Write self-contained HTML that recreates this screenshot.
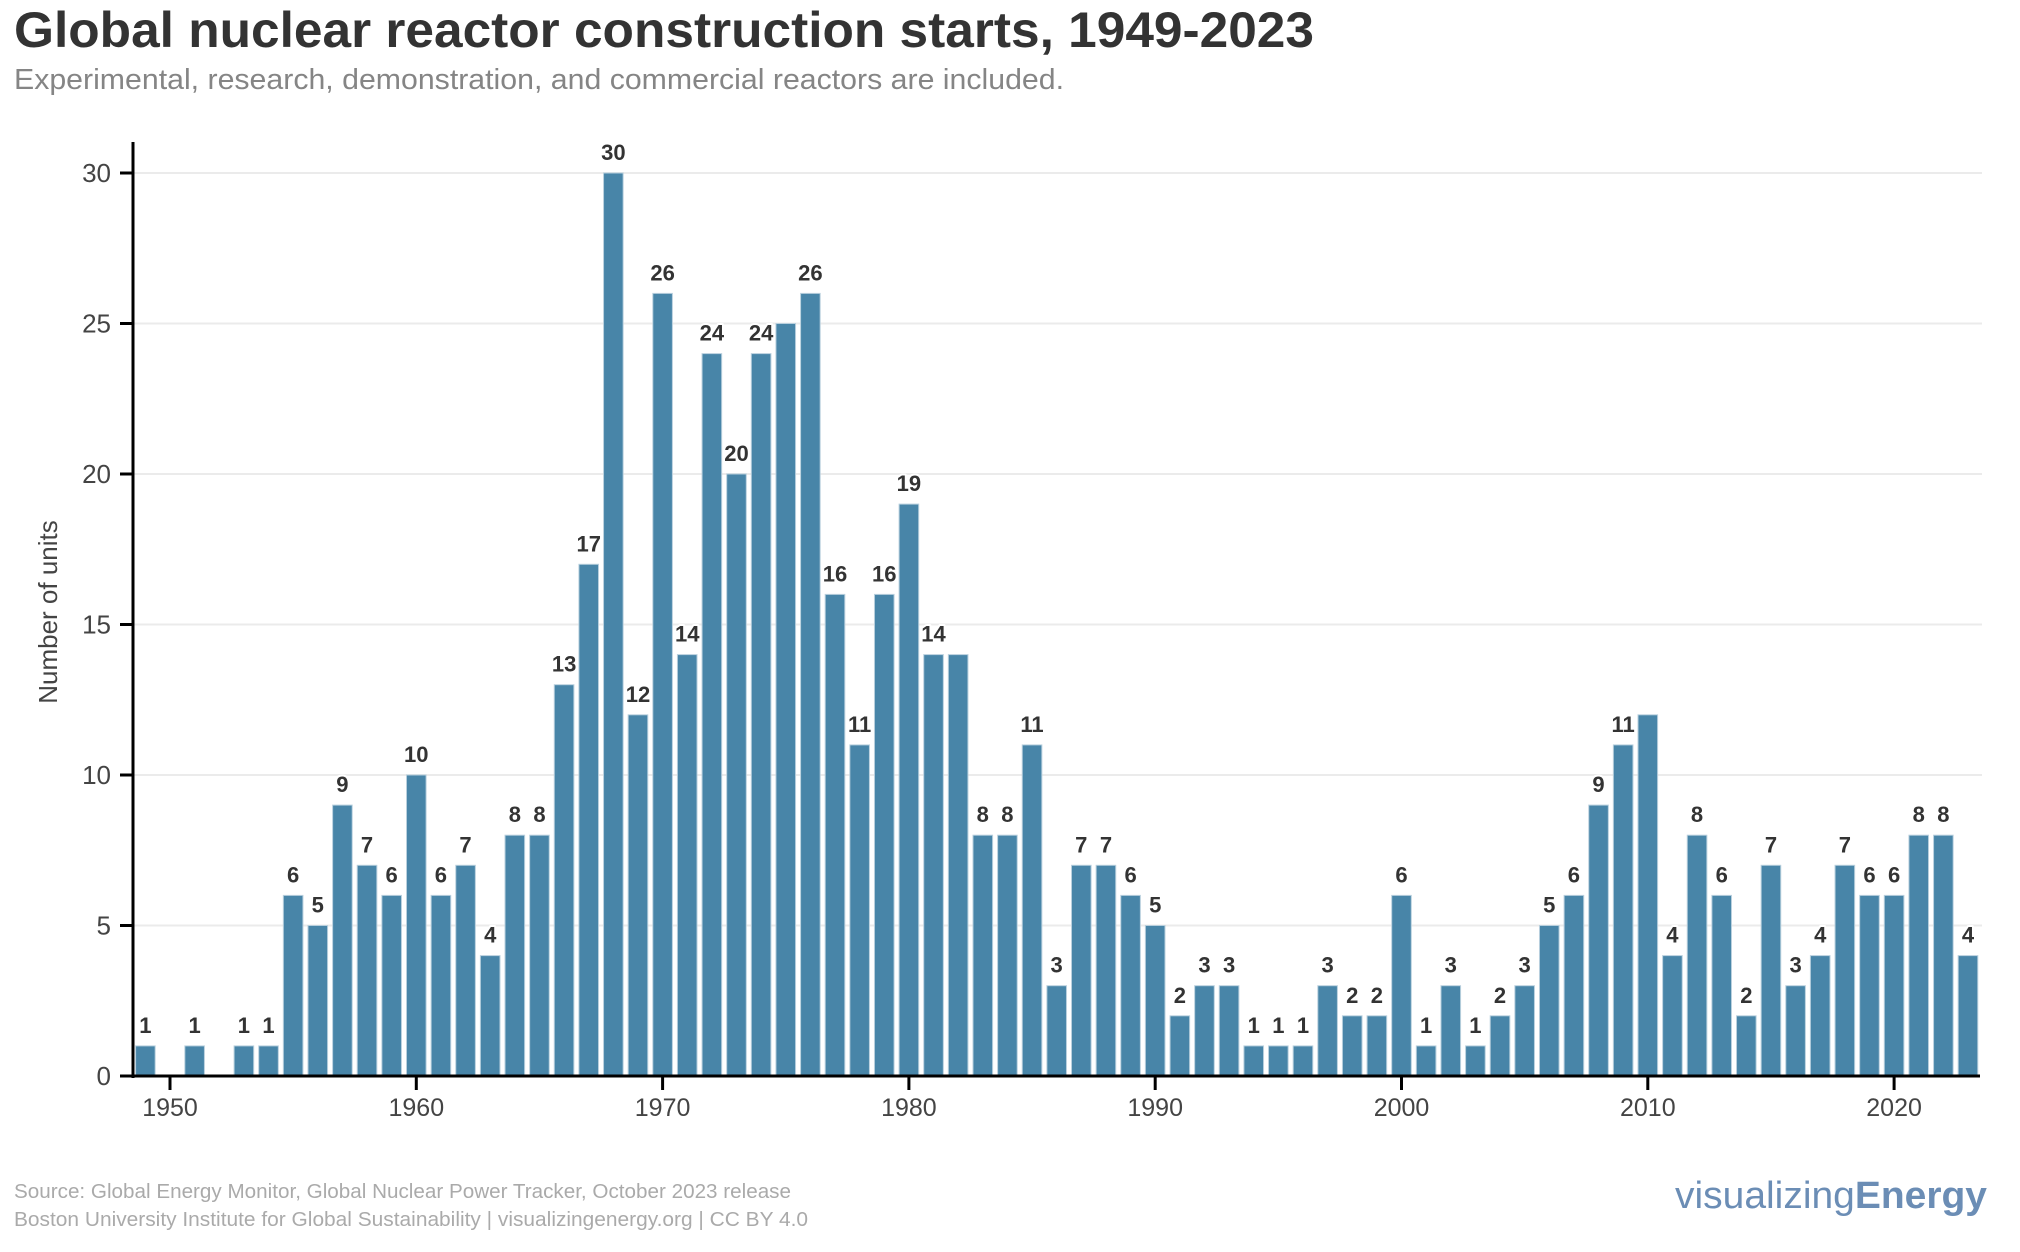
<!DOCTYPE html>
<html><head><meta charset="utf-8"><style>
html,body{margin:0;padding:0;background:#fff;}
svg{display:block;font-family:"Liberation Sans",sans-serif;}
</style></head><body>
<svg width="2020" height="1252" viewBox="0 0 2020 1252" xmlns="http://www.w3.org/2000/svg">
<text x="14" y="47" font-size="50" font-weight="bold" fill="#333" textLength="1300" lengthAdjust="spacingAndGlyphs">Global nuclear reactor construction starts, 1949-2023</text>
<text x="14" y="89" font-size="29" fill="#858585" textLength="1050" lengthAdjust="spacingAndGlyphs">Experimental, research, demonstration, and commercial reactors are included.</text>
<g id="grid" stroke="#ebebeb" stroke-width="2"></g>
<g id="bars"></g>
<g id="labels"></g>
<g id="axes"></g>
<text transform="translate(57,612) rotate(-90)" text-anchor="middle" font-size="26" fill="#444">Number of units</text>
<text x="14" y="1198" font-size="20" fill="#aaa" textLength="777" lengthAdjust="spacingAndGlyphs">Source: Global Energy Monitor, Global Nuclear Power Tracker, October 2023 release</text>
<text x="14" y="1226" font-size="20" fill="#aaa" textLength="794" lengthAdjust="spacingAndGlyphs">Boston University Institute for Global Sustainability | visualizingenergy.org | CC BY 4.0</text>
<text x="1675" y="1208" font-size="38" fill="#6b8db5" textLength="312" lengthAdjust="spacingAndGlyphs"><tspan font-weight="300">visualizing</tspan><tspan font-weight="bold">Energy</tspan></text>
</svg>
<script>
const d=[1,0,1,0,1,1,6,5,9,7,6,10,6,7,4,8,8,13,17,30,12,26,14,24,20,24,25,26,16,11,16,19,14,14,8,8,11,3,7,7,6,5,2,3,3,1,1,1,3,2,2,6,1,3,1,2,3,5,6,9,11,12,4,8,6,2,7,3,4,7,6,6,8,8,4];
const hide={1975:1,1982:1,2010:1};
const ns="http://www.w3.org/2000/svg";
function el(p,t,a,txt){const e=document.createElementNS(ns,t);for(const k in a)e.setAttribute(k,a[k]);if(txt!==undefined)e.textContent=txt;document.getElementById(p).appendChild(e);return e;}
const X=y=>170+(y-1950)*24.63, Y=v=>1076-v*30.1;
for(let v=5;v<=30;v+=5) el("grid","line",{x1:133,x2:1982,y1:Y(v),y2:Y(v)});
d.forEach((v,i)=>{const yr=1949+i;if(!v)return;
 el("bars","rect",{x:X(yr)-9.8,y:Y(v),width:19.6,height:v*30.1,fill:"#4885a8",stroke:"#b9d0de","stroke-width":1});
 if(!hide[yr]) el("labels","text",{x:X(yr),y:Y(v)-13,"text-anchor":"middle","font-size":22,"font-weight":"bold",fill:"#333",stroke:"#fff","stroke-width":4,"paint-order":"stroke","stroke-linejoin":"round"},String(v));
});
el("axes","line",{x1:133,x2:133,y1:142,y2:1078,stroke:"#000","stroke-width":3});
el("axes","line",{x1:131,x2:1980,y1:1076,y2:1076,stroke:"#000","stroke-width":3});
for(let v=0;v<=30;v+=5){el("axes","line",{x1:120,x2:133,y1:Y(v),y2:Y(v),stroke:"#000","stroke-width":3});
 el("axes","text",{x:111,y:Y(v)+9,"text-anchor":"end","font-size":26,fill:"#444"},String(v));}
for(let y=1950;y<=2020;y+=10){el("axes","line",{x1:X(y),x2:X(y),y1:1076,y2:1090,stroke:"#000","stroke-width":3});
 el("axes","text",{x:X(y),y:1116,"text-anchor":"middle","font-size":25,fill:"#444"},String(y));}
</script>
</body></html>
